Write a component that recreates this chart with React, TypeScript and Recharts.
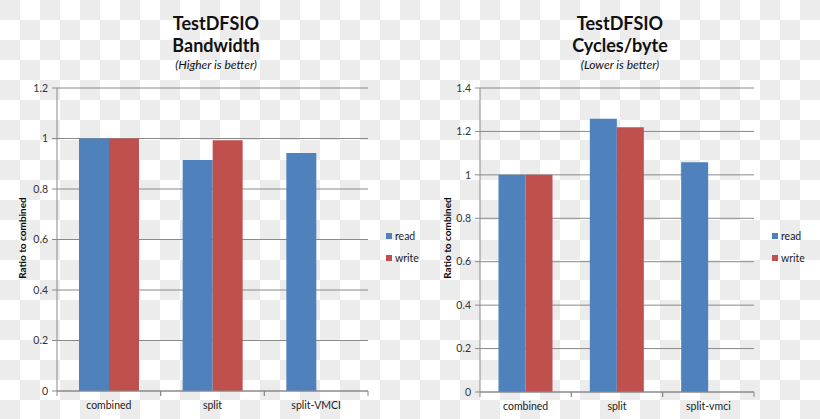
import React from "react";
import { BarChart, Bar, XAxis, YAxis, CartesianGrid } from "recharts";

const categoriesLeft = ["combined", "split", "split-VMCI"];
const categoriesRight = ["combined", "split", "split-vmci"];
const bandwidthRead = [1.0, 0.915, 0.943];
const bandwidthWrite = [1.0, 0.993, null];
const cyclesRead = [1.0, 1.258, 1.058];
const cyclesWrite = [1.0, 1.219, null];
const bandwidthTicks = [0, 0.2, 0.4, 0.6, 0.8, 1, 1.2];
const cyclesTicks = [0, 0.2, 0.4, 0.6, 0.8, 1, 1.2, 1.4];
const seriesNames = ["read", "write"];

const FONT = "Lato, 'Liberation Sans', sans-serif";
const BLUE = "#4f81bd";
const RED = "#c0504d";
const AXIS = "#8a8a8a";
const seriesColors = [BLUE, RED];

const leftData = categoriesLeft.map((name, i) => ({ name, read: bandwidthRead[i], write: bandwidthWrite[i] }));
const rightData = categoriesRight.map((name, i) => ({ name, read: cyclesRead[i], write: cyclesWrite[i] }));

// x tick: label under the category, small marks at the category edges (Excel style)
const CategoryTick = (props: any) => {
    const { x, y, payload, half } = props;
    const h = payload && payload.offset ? payload.offset : half;
    return (
        <g>
            <line x1={x - h} y1={y} x2={x - h} y2={y + 5} stroke={AXIS} />
            <line x1={x + h} y1={y} x2={x + h} y2={y + 5} stroke={AXIS} />
            <text x={x} y={y + 18} textAnchor="middle" fontSize={10.5} fill="#222" fontFamily={FONT}>
                {payload.value}
            </text>
        </g>
    );
};

function LegendBox({ left }: { left: number }) {
    return (
        <div style={{ position: "absolute", left, top: 225, fontFamily: FONT, fontSize: 10.5, color: "#222" }}>
            {seriesNames.map((s, i) => (
                <div key={s} style={{ display: "flex", alignItems: "center", height: 22 }}>
                    <span style={{ width: 6, height: 6, background: seriesColors[i], marginRight: 3, display: "inline-block" }} />
                    {s}
                </div>
            ))}
        </div>
    );
}

const titleStyle: React.CSSProperties = {
    position: "absolute",
    textAlign: "center",
    fontFamily: FONT,
    color: "#111",
    width: 300,
};

function Title({ cx, line2, note }: { cx: number; line2: string; note: string }) {
    return (
        <div style={{ ...titleStyle, left: cx - 150, top: 12 }}>
            <div style={{ fontSize: 18, fontWeight: 700, lineHeight: "22px" }}>TestDFSIO</div>
            <div style={{ fontSize: 18, fontWeight: 700, lineHeight: "22px" }}>{line2}</div>
            <div style={{ fontSize: 12, fontStyle: "italic", lineHeight: "17px" }}>{note}</div>
        </div>
    );
}

function YLabel({ cx }: { cx: number }) {
    return (
        <div
            style={{
                position: "absolute",
                left: cx - 60,
                top: 232,
                width: 120,
                textAlign: "center",
                transform: "rotate(-90deg)",
                fontFamily: FONT,
                fontSize: 10,
                fontWeight: 700,
                color: "#111",
            }}
        >
            Ratio to combined
        </div>
    );
}

export default function App() {
    return (
        <div
            style={{
                position: "absolute",
                left: 0,
                top: 0,
                width: 820,
                height: 419,
                overflow: "hidden",
                background: "repeating-conic-gradient(#fff 0 25%, #ececec 0 50%) 0 0 / 40px 40px",
            }}
        >
            <Title cx={216} line2="Bandwidth" note="(Higher is better)" />
            <Title cx={620} line2="Cycles/byte" note="(Lower is better)" />
            <YLabel cx={22} />
            <YLabel cx={447} />

            <div style={{ position: "absolute", left: 0, top: 0 }}>
                <BarChart width={420} height={419} data={leftData} margin={{ top: 88, right: 52, bottom: 8, left: 27 }} barGap={0} barCategoryGap={22}>
                    <CartesianGrid horizontal vertical={false} stroke={AXIS} />
                    <XAxis dataKey="name" stroke={AXIS} tickLine={false} tickSize={0} tickMargin={0} height={20} interval={0} tick={<CategoryTick half={52} />} />
                    <YAxis
                        domain={[0, 1.2]}
                        ticks={bandwidthTicks}
                        width={30}
                        stroke={AXIS}
                        tickSize={5}
                        tickMargin={4}
                        tick={{ fontSize: 10.5, fill: "#333", fontFamily: FONT }}
                    />
                    <Bar dataKey="read" fill={BLUE} isAnimationActive={false} />
                    <Bar dataKey="write" fill={RED} isAnimationActive={false} />
                </BarChart>
            </div>

            <div style={{ position: "absolute", left: 420, top: 0 }}>
                <BarChart width={400} height={419} data={rightData} margin={{ top: 88, right: 66, bottom: 7, left: 30 }} barGap={0} barCategoryGap={18.5}>
                    <CartesianGrid horizontal vertical={false} stroke={AXIS} />
                    <XAxis dataKey="name" stroke={AXIS} tickLine={false} tickSize={0} tickMargin={0} height={20} interval={0} tick={<CategoryTick half={45.7} />} />
                    <YAxis
                        domain={[0, 1.4]}
                        ticks={cyclesTicks}
                        width={30}
                        stroke={AXIS}
                        tickSize={5}
                        tickMargin={4}
                        tick={{ fontSize: 10.5, fill: "#333", fontFamily: FONT }}
                    />
                    <Bar dataKey="read" fill={BLUE} isAnimationActive={false} />
                    <Bar dataKey="write" fill={RED} isAnimationActive={false} />
                </BarChart>
            </div>

            <LegendBox left={386} />
            <LegendBox left={772} />
        </div>
    );
}
